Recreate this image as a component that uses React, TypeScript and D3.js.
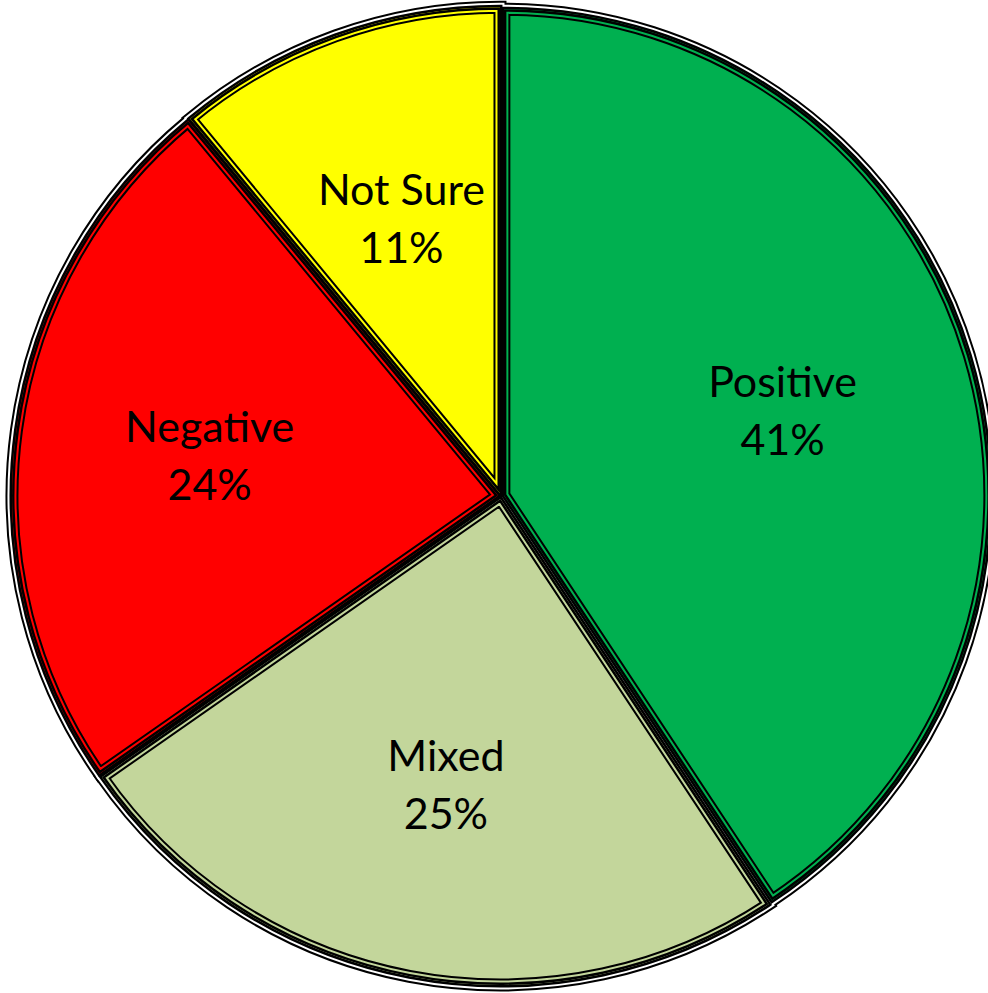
import React from "react";
import * as d3 from "d3";

const categories = ["Positive", "Mixed", "Negative", "Not Sure"];
const values = [40.7, 24.6, 23.7, 11.0];
const colors = ["#00B050", "#C3D69B", "#FF0000", "#FFFF00"];

const W = 988;
const H = 993;
const CX = 501;
const CY = 496;
const R = 486;
const EXPLODE = 3;

export default function App() {
  const pie = d3.pie<number>().sort(null).value((d) => d);
  const arcs = pie(values);
  const arcGen = d3.arc<d3.PieArcDatum<number>>().innerRadius(0).outerRadius(R);
  const total = d3.sum(values);
  const labelR = R * 0.605;

  const offset = (a: d3.PieArcDatum<number>) => {
    const m = (a.startAngle + a.endAngle) / 2;
    return [EXPLODE * Math.sin(m), -EXPLODE * Math.cos(m)];
  };

  return (
    <svg
      width={W}
      height={H}
      style={{ position: "absolute", left: 0, top: 0, background: "#fff" }}
    >
      <defs>
        {arcs.map((a, i) => (
          <clipPath id={`clip${i}`} key={i}>
            <path d={arcGen(a) || ""} />
          </clipPath>
        ))}
      </defs>
      <g transform={`translate(${CX},${CY})`}>
        {[
          { w: 13, c: "#000" },
          { w: 9, c: "#fff" },
          { w: 5, c: "#000" },
        ].map((s, k) => (
          <g key={k}>
            {arcs.map((a, i) => {
              const [dx, dy] = offset(a);
              return (
                <path
                  key={i}
                  transform={`translate(${dx},${dy})`}
                  d={arcGen(a) || ""}
                  fill="none"
                  stroke={s.c}
                  strokeWidth={s.w}
                />
              );
            })}
          </g>
        ))}
        {arcs.map((a, i) => {
          const [dx, dy] = offset(a);
          const d = arcGen(a) || "";
          return (
            <g key={i} transform={`translate(${dx},${dy})`}>
              <g clipPath={`url(#clip${i})`}>
                <path d={d} fill={colors[i]} />
                <path d={d} fill="none" stroke="#000" strokeWidth={13} />
                <path d={d} fill="none" stroke={colors[i]} strokeWidth={9} />
                <path d={d} fill="none" stroke="#000" strokeWidth={5} />
              </g>
            </g>
          );
        })}
        {arcs.map((a, i) => {
          const m = (a.startAngle + a.endAngle) / 2;
          const x = labelR * Math.sin(m);
          const y = -labelR * Math.cos(m);
          const pct = Math.round((values[i] / total) * 100) + "%";
          return (
            <text
              key={i}
              x={x}
              y={y}
              textAnchor="middle"
              fontFamily="Lato, 'Open Sans', sans-serif"
              fontSize={43}
              fill="#000"
            >
              <tspan x={x} dy={-14}>
                {categories[i]}
              </tspan>
              <tspan x={x} dy={58}>
                {pct}
              </tspan>
            </text>
          );
        })}
      </g>
    </svg>
  );
}
